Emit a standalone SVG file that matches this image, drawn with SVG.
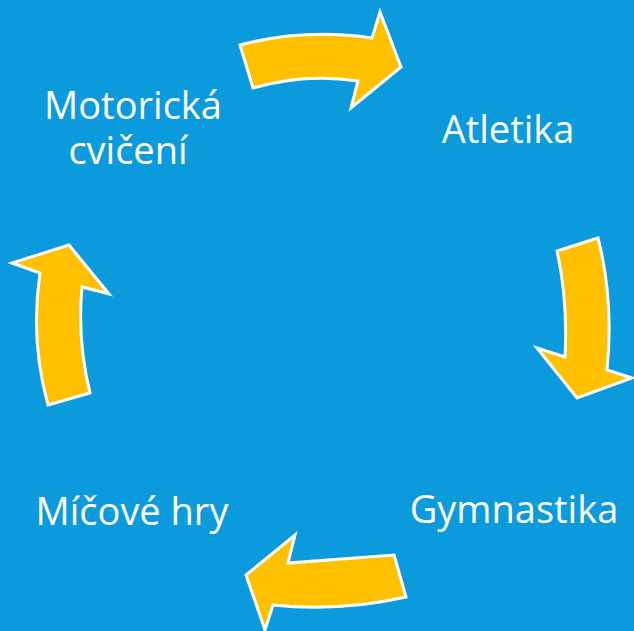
<svg xmlns="http://www.w3.org/2000/svg" width="634" height="631" viewBox="0 0 634 631">
<style>
.bg{fill:#0b9bdc}
.arr{fill:#ffc000;stroke:#ffffff;stroke-width:3;stroke-linejoin:miter}
.lbl{font-family:"Open Sans","Noto Sans","Liberation Sans",sans-serif;font-size:38px;fill:#ffffff;text-anchor:middle}
</style>
<rect class="bg" x="0" y="0" width="634" height="631"/>
<g id="connectors">
<path class="arr" d="M240,45 Q305,28 372,38 L380,12 L401,67 L351,108 L358,81 Q305,73 253,88 Z"/>
<path class="arr" d="M557,251 L598,238 Q614,300 607,370 L632,378 L577,398 L537,348 L565,357 Q568,300 557,251 Z"/>
<path class="arr" d="M394,555 L406,597 Q340,612 273,605 L265,630 L246,575 L295,535 L288,563 Q340,559 394,555 Z"/>
<path class="arr" d="M48,405 L90,393 Q77,340 82,287 L109,294 L69,245 L12,263 L40,273 Q30,340 48,405 Z"/>
</g>
<g id="node-motoricka"><text class="lbl"><tspan x="133" y="119">Motorická</tspan><tspan x="128" y="164">cvičení</tspan></text></g>
<g id="node-atletika"><text class="lbl" x="508" y="143">Atletika</text></g>
<g id="node-gymnastika"><text class="lbl" x="514" y="523">Gymnastika</text></g>
<g id="node-micove"><text class="lbl" x="132" y="525">Míčové hry</text></g>
</svg>
